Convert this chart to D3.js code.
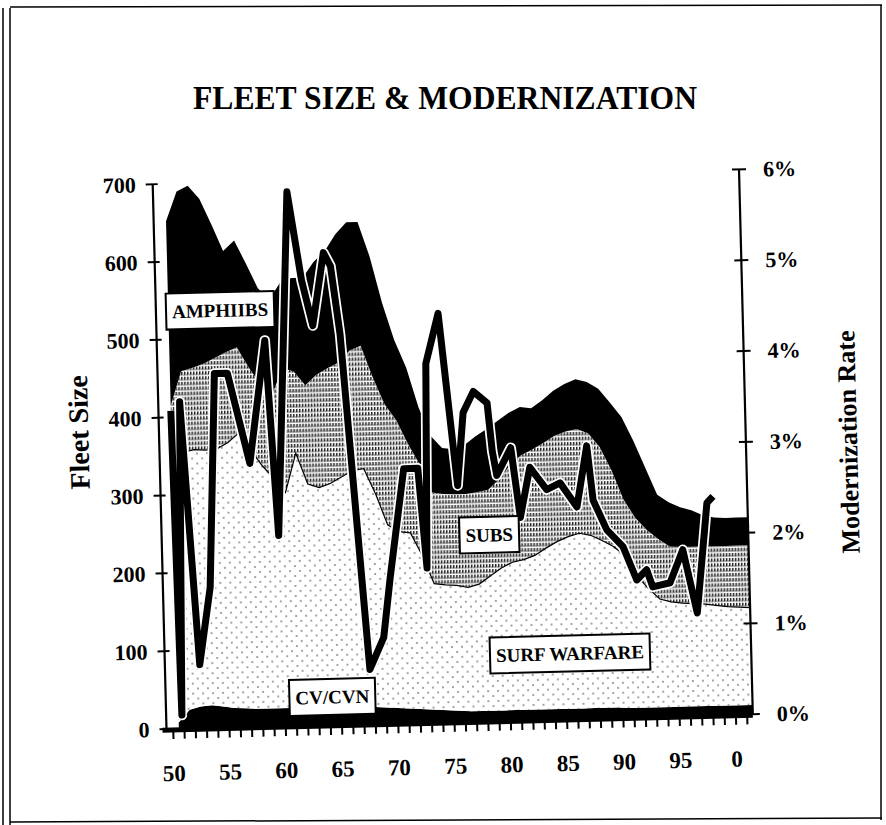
<!DOCTYPE html>
<html>
<head>
<meta charset="utf-8">
<style>
  body { margin: 0; background: #fff; }
  svg { display: block; }
  text { font-family: "Liberation Serif", "Times New Roman", serif; font-weight: bold; fill: #000; }
</style>
</head>
<body>
<script src="https://cdn.jsdelivr.net/npm/d3@7"></script>
<script>
// fleet size by type (ships), 1950-2001
var years = d3.range(1950, 2002);
var cv = [8,24,28,29,27,25,24,23,23,23, 23,23,23,23,23,23,23,22,21,20, 19,18,17,16,15,14,13,13,13,13,
          13,13,13,13,13,13,13,13,13,13, 12,12,12,12,12,12,12,12,12,12, 12,12];
var surf = [252,331,330,328,331,341,354,332,312,295, 277,327,287,282,287,295,303,306,274,235,
            227,226,198,162,161,161,159,163,173,183, 190,193,198,207,215,221,225,222,215,207,
            196,170,153,139,135,133,132,131,129,127, 126,125];
var subs = [155,104,105,111,117,116,110,107,105,107, 160,105,127,145,148,147,154,158,150,155,
            143,114,116,117,117,117,120,118,111,114, 125,134,136,135,136,135,134,131,120,98,
            72,74,75,77,71,72,73,74,76,78, 79,80];
var amphibs = [237,231,234,212,172,130,137,133,123,123, 110,120,138,145,150,165,165,159,155,130,
               103,98,74,73,59,58,63,72,78,75, 67,62,53,55,58,61,64,66,75,87,
               106,99,80,57,57,51,47,40,37,36, 36,36];

// modernization rate (%)
var rateYears = [1950.0,1950.3,1950.8,1952.0,1953.1,1953.95,1955.1,1956.9,1958.5,1959.3,
                 1960.8,1961.9,1962.8,1963.9,1964.5,1965.2,1967.1,1968.4,1969.1,1970.55,
                 1971.8,1972.4,1972.75,1973.95,1975.3,1975.95,1976.9,1978.1,1978.45,1978.8,
                 1980.1,1980.8,1981.75,1983.2,1984.4,1985.85,1986.85,1987.3,1988.45,1989.85,
                 1991.0,1991.9,1992.4,1993.95,1995.15,1996.3,1997.4,1997.95];
var rateValues = [3.5,0.15,3.6,0.7,1.55,3.9,3.9,2.9,4.25,2.1,
                  5.88,4.9,4.4,5.2,5.05,4.3,0.6,0.95,1.6,2.8,
                  2.8,1.7,3.95,4.5,2.6,3.4,3.63,3.5,2.97,2.7,
                  3.0,2.23,2.78,2.53,2.6,2.33,3.0,2.4,2.07,1.88,
                  1.51,1.62,1.43,1.47,1.83,1.13,2.34,2.41];

var leftTicks = [0,100,200,300,400,500,600,700];
var rightTicks = [0,1,2,3,4,5,6];
var yearLabels = [1950,1955,1960,1965,1970,1975,1980,1985,1990,1995,2000];

var labels = [
  {text: "AMPHIIBS", year: 1955.1, value: 536},
  {text: "SUBS", year: 1978.5, value: 239},
  {text: "SURF WARFARE", year: 1985.4, value: 84},
  {text: "CV/CVN", year: 1964.2, value: 36}
];

var width = 886, height = 825;
var svg = d3.select("body").append("svg")
  .attr("width", width)
  .attr("height", height);

// patterns for the gray areas
var defs = svg.append("defs");
var pSubs = defs.append("pattern").attr("id", "subsPat")
  .attr("patternUnits", "userSpaceOnUse").attr("width", 3).attr("height", 5);
pSubs.append("rect").attr("width", 3).attr("height", 5).attr("fill", "#fff");
pSubs.append("rect").attr("x", 0).attr("y", 0).attr("width", 1.5).attr("height", 3.5).attr("fill", "#222");
pSubs.append("rect").attr("x", 1.8).attr("y", 2.5).attr("width", 1).attr("height", 1).attr("fill", "#444");

var pSurf = defs.append("pattern").attr("id", "surfPat")
  .attr("patternUnits", "userSpaceOnUse").attr("width", 10).attr("height", 10);
pSurf.append("rect").attr("width", 10).attr("height", 10).attr("fill", "#fff");
pSurf.append("circle").attr("cx", 2).attr("cy", 2).attr("r", 0.8).attr("fill", "#333");
pSurf.append("circle").attr("cx", 7).attr("cy", 7).attr("r", 0.8).attr("fill", "#333");

// page frame (scan border)
var frame = svg.append("g").attr("stroke", "#000").attr("fill", "none");
frame.append("line").attr("x1", 3).attr("y1", 8).attr("x2", 3).attr("y2", 825).attr("stroke-width", 1.5);
frame.append("line").attr("x1", 10).attr("y1", 8).attr("x2", 10).attr("y2", 825).attr("stroke-width", 1.5);
frame.append("line").attr("x1", 10).attr("y1", 7).attr("x2", 882).attr("y2", 5).attr("stroke-width", 1.5);
frame.append("line").attr("x1", 881).attr("y1", 5).attr("x2", 881).attr("y2", 820).attr("stroke-width", 1.5);
frame.append("line").attr("x1", 10).attr("y1", 822).attr("x2", 882).attr("y2", 818).attr("stroke-width", 1.5);

svg.append("text")
  .attr("transform", "translate(445,109) scale(0.93,1)")
  .attr("text-anchor", "middle")
  .attr("font-size", "34px")
  .text("FLEET SIZE & MODERNIZATION");

// the scanned chart is slightly tilted
var plot = {left: 159.5, right: 746, top: 176.75, bottom: 721.75};
var g = svg.append("g").attr("transform", "rotate(-1.45,452.5,449.25)");

var x = d3.scaleLinear().domain([1949.4, 2001.5]).range([plot.left, plot.right]);
var y = d3.scaleLinear().domain([0, 700]).range([plot.bottom, plot.top]);
var yR = d3.scaleLinear().domain([0, 6]).range([plot.bottom, plot.top]);

var table = years.map(function(yr, i) {
  return {year: yr, cv: cv[i], surf: surf[i], subs: subs[i], amphibs: amphibs[i]};
});
var keys = ["cv", "surf", "subs", "amphibs"];
var fills = {cv: "#000", surf: "url(#surfPat)", subs: "url(#subsPat)", amphibs: "#000"};
var series = d3.stack().keys(keys)(table);

var area = d3.area()
  .x(function(d) { return x(d.data.year + 0.5); })
  .y0(function(d) { return y(d[0]); })
  .y1(function(d) { return y(d[1]); });

g.selectAll(".layer")
  .data(series)
  .enter()
  .append("path")
  .attr("class", "layer")
  .attr("fill", function(d) { return fills[d.key]; })
  .attr("d", area);

// thin line on top of surface warfare
g.append("path")
  .datum(series[1])
  .attr("fill", "none")
  .attr("stroke", "#000")
  .attr("stroke-width", 1.2)
  .attr("d", d3.line()
    .x(function(d) { return x(d.data.year + 0.5); })
    .y(function(d) { return y(d[1]); }));

// modernization rate
var rate = rateYears.map(function(yr, i) { return [yr, rateValues[i]]; });
var rateLine = d3.line()
  .x(function(d) { return x(d[0] + 0.5); })
  .y(function(d) { return yR(d[1]); });
g.append("path").datum(rate)
  .attr("fill", "none").attr("stroke", "#fff").attr("stroke-width", 10.5)
  .attr("stroke-linejoin", "round").attr("d", rateLine);
g.append("path").datum(rate)
  .attr("fill", "none").attr("stroke", "#000").attr("stroke-width", 7)
  .attr("stroke-linejoin", "round").attr("d", rateLine);

// x axis
g.append("line")
  .attr("x1", plot.left - 4).attr("x2", plot.right)
  .attr("y1", plot.bottom + 1).attr("y2", plot.bottom + 1)
  .attr("stroke", "#000").attr("stroke-width", 5);
g.selectAll(".xtick")
  .data(d3.range(1950, 2002))
  .enter()
  .append("line")
  .attr("x1", function(d) { return x(d); })
  .attr("x2", function(d) { return x(d); })
  .attr("y1", plot.bottom)
  .attr("y2", plot.bottom + 10)
  .attr("stroke", "#000")
  .attr("stroke-width", 2);
g.selectAll(".xlab")
  .data(yearLabels)
  .enter()
  .append("text")
  .attr("x", function(d) { return x(d); })
  .attr("y", plot.bottom + 52)
  .attr("text-anchor", "middle")
  .attr("font-size", "23px")
  .text(function(d) { return d % 100; });

// left axis
g.append("line")
  .attr("x1", plot.left).attr("x2", plot.left)
  .attr("y1", plot.top).attr("y2", plot.bottom)
  .attr("stroke", "#000").attr("stroke-width", 2.2);
g.selectAll(".ltick")
  .data(leftTicks)
  .enter()
  .append("line")
  .attr("x1", plot.left - 7).attr("x2", plot.left + 5)
  .attr("y1", function(d) { return y(d); })
  .attr("y2", function(d) { return y(d); })
  .attr("stroke", "#000").attr("stroke-width", 2);
g.selectAll(".llab")
  .data(leftTicks)
  .enter()
  .append("text")
  .attr("x", plot.left - 17)
  .attr("y", function(d) { return y(d); })
  .attr("dy", "0.35em")
  .attr("text-anchor", "end")
  .attr("font-size", "22px")
  .text(function(d) { return d; });

// right axis
g.append("line")
  .attr("x1", plot.right).attr("x2", plot.right)
  .attr("y1", plot.top).attr("y2", plot.bottom)
  .attr("stroke", "#000").attr("stroke-width", 2.2);
g.selectAll(".rtick")
  .data(rightTicks)
  .enter()
  .append("line")
  .attr("x1", plot.right - 7).attr("x2", plot.right + 7)
  .attr("y1", function(d) { return yR(d); })
  .attr("y2", function(d) { return yR(d); })
  .attr("stroke", "#000").attr("stroke-width", 2);
g.selectAll(".rlab")
  .data(rightTicks)
  .enter()
  .append("text")
  .attr("x", plot.right + 24)
  .attr("y", function(d) { return yR(d); })
  .attr("dy", "0.35em")
  .attr("font-size", "22px")
  .text(function(d) { return d + "%"; });

// axis titles
g.append("text")
  .attr("transform", "translate(79,423) rotate(-90)")
  .attr("text-anchor", "middle")
  .attr("dy", "0.35em")
  .attr("font-size", "28px")
  .text("Fleet Size");
g.append("text")
  .attr("transform", "translate(848,452) rotate(-90)")
  .attr("text-anchor", "middle")
  .attr("dy", "0.35em")
  .attr("font-size", "26px")
  .text("Modernization Rate");

// boxed series labels
labels.forEach(function(l) {
  var lg = g.append("g")
    .attr("transform", "translate(" + x(l.year) + "," + y(l.value) + ")");
  var rect = lg.append("rect").attr("fill", "#fff").attr("stroke", "#000").attr("stroke-width", 2);
  var t = lg.append("text")
    .attr("text-anchor", "middle")
    .attr("dy", "0.35em")
    .attr("font-size", "19px")
    .text(l.text);
  var w = t.node().getComputedTextLength() + 12;
  rect.attr("x", -w / 2).attr("y", -18).attr("width", w).attr("height", 36);
});
</script>
</body>
</html>
